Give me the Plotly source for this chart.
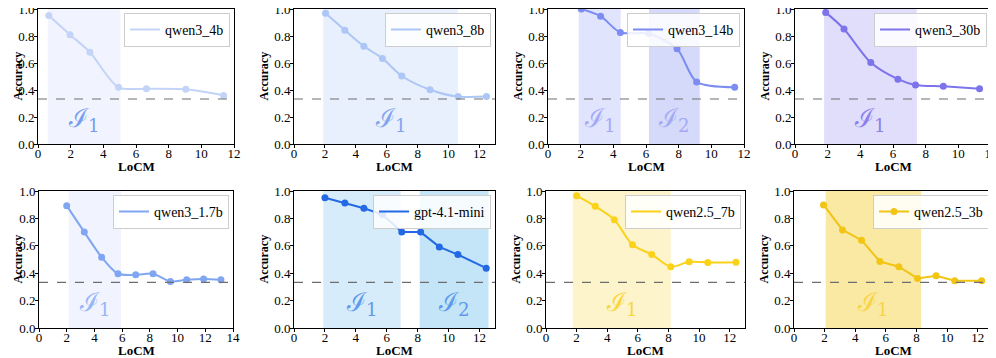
import plotly.graph_objects as go
from plotly.subplots import make_subplots

# data
names = ["qwen3_4b", "qwen3_8b", "qwen3_14b", "qwen3_30b",
         "qwen3_1.7b", "gpt-4.1-mini", "qwen2.5_7b", "qwen2.5_3b"]

x_4b = [0.66, 1.96, 3.18, 4.93, 6.64, 9.05, 11.36]
y_4b = [0.952, 0.81, 0.68, 0.42, 0.41, 0.405, 0.36]

x_8b = [2.04, 3.29, 4.52, 5.72, 6.97, 8.8, 10.62, 12.45]
y_8b = [0.968, 0.843, 0.724, 0.634, 0.504, 0.402, 0.351, 0.351]

x_14b = [2.04, 3.22, 4.43, 6.16, 7.9, 9.1, 11.43]
y_14b = [1.0, 0.947, 0.826, 0.818, 0.705, 0.46, 0.42]

x_30b = [1.88, 3.0, 4.64, 6.3, 7.38, 9.08, 11.3]
y_30b = [0.975, 0.852, 0.603, 0.48, 0.437, 0.427, 0.41]

x_17b = [2.0, 3.27, 4.52, 5.7, 6.98, 8.23, 9.48, 10.66, 11.88, 13.13]
y_17b = [0.893, 0.70, 0.517, 0.396, 0.388, 0.396, 0.34, 0.352, 0.357, 0.352]

x_gpt = [2.0, 3.29, 4.52, 5.72, 6.97, 8.19, 9.4, 10.6, 12.43]
y_gpt = [0.951, 0.913, 0.874, 0.828, 0.70, 0.70, 0.592, 0.536, 0.437]

x_q7b = [2.0, 3.22, 4.46, 5.65, 6.91, 8.15, 9.35, 10.57, 12.41]
y_q7b = [0.966, 0.888, 0.791, 0.607, 0.536, 0.447, 0.483, 0.478, 0.48]

x_q3b = [1.93, 3.17, 4.41, 5.61, 6.85, 8.07, 9.28, 10.5, 12.26]
y_q3b = [0.898, 0.716, 0.641, 0.485, 0.447, 0.362, 0.381, 0.345, 0.345]

xs = [x_4b, x_8b, x_14b, x_30b, x_17b, x_gpt, x_q7b, x_q3b]
ys = [y_4b, y_8b, y_14b, y_30b, y_17b, y_gpt, y_q7b, y_q3b]

# shaded intervals (start, end) per panel
spans = [
    [(0.6, 5.05)],
    [(1.89, 10.6)],
    [(1.88, 4.45), (6.18, 9.29)],
    [(1.78, 7.46)],
    [(2.14, 5.92)],
    [(1.89, 6.9), (8.13, 12.58)],
    [(1.74, 8.15)],
    [(2.07, 8.3)],
]
x_max = [12, 13, 12, 12, 14, 13, 13, 13]
x_ticks = [[0, 2, 4, 6, 8, 10, 12]] * 4 + [[0, 2, 4, 6, 8, 10, 12, 14]] + [[0, 2, 4, 6, 8, 10, 12]] * 3
chance = 1 / 3

line_colors = ["rgb(195,212,248)", "rgb(172,198,246)", "rgb(125,140,240)", "rgb(125,115,235)",
               "rgb(128,166,242)", "rgb(35,105,230)", "rgb(250,210,25)", "rgb(242,196,20)"]
shade_colors = [["rgb(241,244,255)"], ["rgb(232,240,253)"],
                ["rgb(224,228,252)", "rgb(214,218,250)"], ["rgb(224,222,251)"],
                ["rgb(241,244,255)"], ["rgb(215,236,250)", "rgb(196,228,248)"],
                ["rgb(253,244,203)"], ["rgb(250,233,163)"]]
label_colors = ["rgb(120,158,238)", "rgb(130,165,240)", "rgb(165,170,246)", "rgb(140,128,236)",
                "rgb(150,182,246)", "rgb(95,155,236)", "rgb(250,214,60)", "rgb(246,212,70)"]
smooth = [True, True, True, True, True, False, True, False]
legend_marker = [False] * 7 + [True]

# the page body adds 8px margin, so the figure is 8px smaller and offset
OFF = 8
W, H = 996 - OFF, 358 - OFF


def px_x(p):
    return min(1, max(0, (p - OFF) / W))


def px_y(p):
    return min(1, max(0, 1 - (p - OFF) / H))


xpix = [(38, 234), (294, 495), (548, 744), (795, 991),
        (39, 233), (294, 495), (546, 745), (794, 993)]
ypix = [(9, 144)] * 4 + [(191, 328)] * 4

FONT = "Liberation Serif, Times New Roman, serif"

fig = make_subplots(rows=2, cols=4)

shapes = []
annotations = []
for i in range(8):
    r, c = i // 4 + 1, i % 4 + 1
    n = "" if i == 0 else str(i + 1)
    lg = "legend" if i == 0 else "legend" + str(i + 1)
    xd = (px_x(xpix[i][0]), px_x(xpix[i][1]))
    yd = (px_y(ypix[i][1]), px_y(ypix[i][0]))
    fig.add_trace(go.Scatter(
        x=xs[i], y=ys[i], name=names[i],
        mode="lines+markers" if legend_marker[i] else "lines",
        line=dict(color=line_colors[i], width=2,
                  shape="spline" if smooth[i] else "linear", smoothing=0.8),
        marker=dict(size=7, color=line_colors[i]),
        legend=lg, showlegend=True), row=r, col=c)
    if not legend_marker[i]:
        fig.add_trace(go.Scatter(
            x=xs[i], y=ys[i], mode="markers", showlegend=False,
            marker=dict(size=7, color=line_colors[i])), row=r, col=c)
    for k, (a, b) in enumerate(spans[i]):
        shapes.append(dict(type="rect", xref="x" + n, yref="y" + n, x0=a, x1=b, y0=0, y1=1,
                           fillcolor=shade_colors[i][k], line=dict(width=0), layer="below"))
        annotations.append(dict(xref="x" + n, yref="y" + n, x=(a + b) / 2, y=0.18,
                                text="ℐ<sub>" + str(k + 1) + "</sub>", showarrow=False,
                                font=dict(family="DejaVu Serif", size=26, color=label_colors[i])))
    shapes.append(dict(type="line", xref="x" + n, yref="y" + n, x0=0, x1=x_max[i],
                       y0=chance, y1=chance, line=dict(color="rgb(110,110,110)", width=1.2, dash="dash")))
    # axis titles
    annotations.append(dict(xref="paper", yref="paper", x=(xd[0] + xd[1]) / 2,
                            y=px_y(ypix[i][1] + 22), xanchor="center", yanchor="middle",
                            text="<b>LoCM</b>", showarrow=False,
                            font=dict(family=FONT, size=13, color="black")))
    if c == 1:
        ax, xa = 0, "left"
    else:
        ax, xa = px_x(xpix[i][0] - 31), "center"
    annotations.append(dict(xref="paper", yref="paper", x=ax, xanchor=xa,
                            y=(yd[0] + yd[1]) / 2, yanchor="middle",
                            text="<b>Accuracy</b>", showarrow=False,
                            textangle=-90, font=dict(family=FONT, size=12, color="black")))
    fig.update_xaxes(domain=xd, range=[0, x_max[i]], tickvals=x_ticks[i], automargin=False,
                     showline=True, mirror=True, linecolor="black", linewidth=1,
                     ticks="outside", ticklen=3, tickcolor="black", showgrid=False, zeroline=False,
                     ticklabeloverflow="allow", ticklabelstandoff=-6,
                     tickfont=dict(family=FONT, size=13, color="black"),
                     row=r, col=c)
    fig.update_yaxes(domain=yd, range=[0, 1], tickvals=[0, 0.2, 0.4, 0.6, 0.8, 1.0],
                     tickformat=".1f", automargin=False,
                     showline=True, mirror=True, linecolor="black", linewidth=1,
                     ticks="outside", ticklen=3, tickcolor="black", showgrid=False, zeroline=False,
                     ticklabeloverflow="allow", ticklabelstandoff=-3,
                     tickfont=dict(family=FONT, size=13, color="black"),
                     row=r, col=c)
    fig.layout[lg] = dict(x=xd[1] - 0.004, y=yd[1] - 0.011,
                          xanchor="right", yanchor="top",
                          bgcolor="rgba(255,255,255,0.85)", bordercolor="rgb(205,205,205)",
                          borderwidth=1, font=dict(family=FONT, size=14, color="black"),
                          itemwidth=30, tracegroupgap=0)

fig.update_layout(width=W, height=H, margin=dict(l=0, r=0, t=0, b=0),
                  plot_bgcolor="white", paper_bgcolor="white",
                  shapes=shapes, annotations=annotations)
fig.write_html("out.html")
